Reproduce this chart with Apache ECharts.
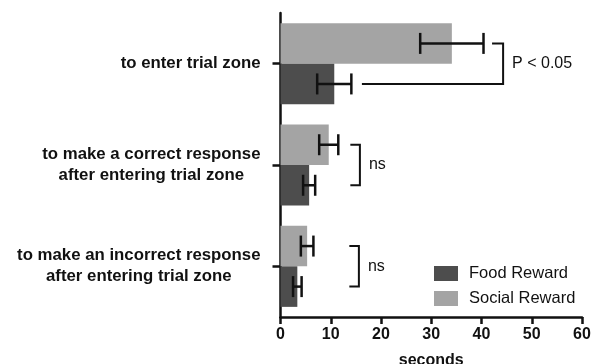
<!DOCTYPE html>
<html><head><meta charset="utf-8">
<script src="https://cdn.jsdelivr.net/npm/echarts@6/dist/echarts.min.js"></script>
<style>html,body{margin:0;padding:0;background:#fff}#c{width:598px;height:364px}</style>
</head><body><div id="c"></div>
<script>
const categories = ['to enter trial zone', 'to make a correct response\nafter entering trial zone', 'to make an incorrect response\nafter entering trial zone'];
const seriesNames = ['Food Reward', 'Social Reward'];
const foodMean = [10.7, 5.7, 3.35];
const foodErr = [3.4, 1.2, 0.85];
const socialMean = [34.1, 9.6, 5.3];
const socialErr = [6.3, 1.9, 1.25];
const xTicks = [0, 10, 20, 30, 40, 50, 60];
// brackets: [category index, top arm start, bottom arm start, bracket x]
const brackets = [[0, 42.1, 16.2, 44.3], [1, 13.9, 13.9, 15.8], [2, 13.7, 13.7, 15.6]];
const bracketLabels = ['P < 0.05', 'ns', 'ns'];

const FONT = '"Liberation Sans", Arial, Helvetica, sans-serif';
const BAR_FRAC = 0.4;
const chart = echarts.init(document.getElementById('c'), null, {renderer: 'canvas'});

function errData(mean, err) { return mean.map((m, i) => [i, m - err[i], m + err[i]]); }

function errRender(sign) {
  return function (params, api) {
    const c = api.value(0);
    const p1 = api.coord([api.value(1), c]);
    const p2 = api.coord([api.value(2), c]);
    const band = api.size([0, 1])[1];
    const y = p1[1] + sign * band * BAR_FRAC / 2;
    const h = 10.5;
    const st = {stroke: '#111', lineWidth: 2.5};
    return {type: 'group', children: [
      {type: 'line', shape: {x1: p1[0], y1: y, x2: p2[0], y2: y}, style: st},
      {type: 'line', shape: {x1: p1[0], y1: y - h, x2: p1[0], y2: y + h}, style: st},
      {type: 'line', shape: {x1: p2[0], y1: y - h, x2: p2[0], y2: y + h}, style: st}
    ]};
  };
}

function bracketRender(params, api) {
  const c = api.value(0);
  const band = api.size([0, 1])[1];
  const ctr = api.coord([0, c])[1];
  const yt = ctr - band * BAR_FRAC / 2;
  const yb = ctr + band * BAR_FRAC / 2;
  const xt = api.coord([api.value(1), c])[0];
  const xb = api.coord([api.value(2), c])[0];
  const xr = api.coord([api.value(3), c])[0];
  const st = {stroke: '#111', lineWidth: 2, fill: null};
  return {type: 'group', children: [
    {type: 'polyline', shape: {points: [[xt, yt], [xr, yt], [xr, yb], [xb, yb]]}, style: st},
    {type: 'text', x: xr + 9, y: ctr, style: {text: bracketLabels[params.dataIndex], fill: '#111', font: '16px ' + FONT, textAlign: 'left', textVerticalAlign: 'middle'}}
  ]};
}

chart.setOption({
  animation: false,
  textStyle: {fontFamily: FONT},
  grid: {left: 280.5, right: 16, top: 13, bottom: 47, containLabel: false, outerBoundsMode: 'none'},
  legend: {
    data: seriesNames, orient: 'vertical', left: 434, top: 265, padding: 0, itemWidth: 24, itemHeight: 15, itemGap: 8,
    icon: 'rect', textStyle: {fontSize: 16.5, color: '#111', fontFamily: FONT, padding: [0, 0, 0, 6]}, selectedMode: false
  },
  xAxis: {
    type: 'value', min: xTicks[0], max: xTicks[xTicks.length - 1], interval: 10,
    name: 'seconds', nameLocation: 'middle', nameGap: 36,
    nameTextStyle: {fontSize: 16, fontWeight: 'bold', color: '#111'},
    axisLine: {show: true, lineStyle: {color: '#111', width: 2.5}},
    axisTick: {show: true, length: 7, lineStyle: {color: '#111', width: 2.5}},
    axisLabel: {fontSize: 16, fontWeight: 'bold', color: '#111', margin: 10},
    splitLine: {show: false}
  },
  yAxis: {
    type: 'category', data: categories, inverse: true,
    axisLine: {show: true, lineStyle: {color: '#111', width: 2.5}},
    axisTick: {show: true, alignWithLabel: true, length: 8, lineStyle: {color: '#111', width: 2.5}},
    axisLabel: {
      margin: 20, align: 'right', color: '#111',
      formatter: v => v.split('\n').map(l => '{c|' + l + '}').join('\n'),
      rich: {c: {align: 'center', fontSize: 16.8, fontWeight: 'bold', lineHeight: 21, color: '#111', fontFamily: FONT}}
    }
  },
  series: [
    {name: 'Social Reward', type: 'bar', data: socialMean, barWidth: '40%', barGap: '0%', itemStyle: {color: '#a4a4a4'}},
    {name: 'Food Reward', type: 'bar', data: foodMean, barWidth: '40%', barGap: '0%', itemStyle: {color: '#4d4d4d'}},
    {type: 'custom', name: 'errS', data: errData(socialMean, socialErr), encode: {y: 0, x: [1, 2]}, renderItem: errRender(-1), z: 5},
    {type: 'custom', name: 'errF', data: errData(foodMean, foodErr), encode: {y: 0, x: [1, 2]}, renderItem: errRender(1), z: 5},
    {type: 'custom', name: 'br', data: brackets, encode: {y: 0, x: [1, 2, 3]}, renderItem: bracketRender, z: 5}
  ]
});
</script></body></html>
